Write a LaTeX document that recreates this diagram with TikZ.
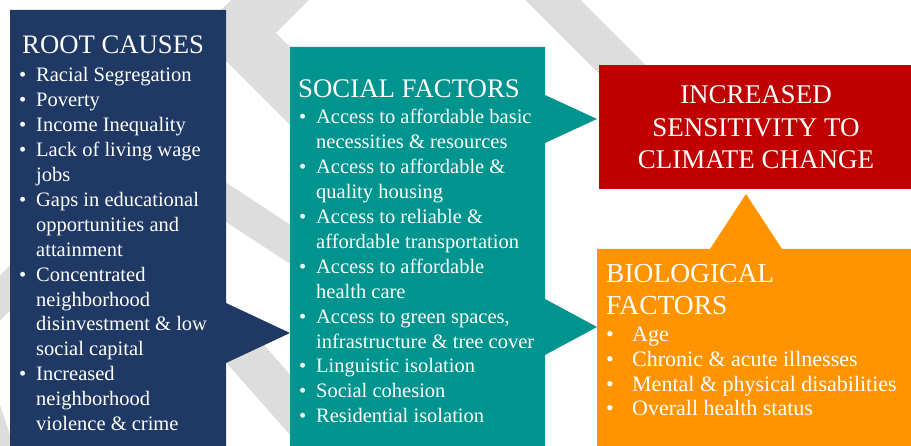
\documentclass[tikz,border=0pt]{standalone}
\usepackage{fontspec}
\setmainfont{Liberation Serif}
\definecolor{navybox}{RGB}{31,56,100}
\definecolor{tealbox}{RGB}{0,148,143}
\definecolor{redbox}{RGB}{192,0,0}
\definecolor{orangebox}{RGB}{255,148,0}
\definecolor{bandgray}{RGB}{221,221,221}
\newcommand\itm[1]{\makebox[#1][l]{\textbullet}}
\newcommand\cnt[1]{\hspace*{#1}}
\tikzset{
  band/.style={draw=bandgray, line cap=butt, line join=miter},
  boxfill/.style={fill=#1, draw=none},
  txt/.style={inner sep=0pt, text=white},
}
\begin{document}
\begin{tikzpicture}[x=1pt,y=-1pt]
\useasboundingbox (0,0) rectangle (911,446);
\begin{scope}
\clip (0,0) rectangle (911,446);
% background bands
\draw[band, line width=55pt] (290,-20) -- (237,33) -- (330,126);
\draw[band, line width=33pt] (120,133) -- (400,316);
\draw[band, line width=39pt] (500,-53) -- (680,127);
\draw[band, line width=32pt] (100,198) -- (-50,348);
\draw[band, line width=40pt] (180,280) -- (330,450);
\fill[bandgray] (0,405) -- (11,438) -- (11,446) -- (0,446) -- cycle;
% boxes
\fill[boxfill=navybox] (10,10) -- (226,10) -- (226,303) -- (290,333) -- (226,363) -- (226,450) -- (10,450) -- cycle;
\fill[boxfill=tealbox] (290,47) -- (545,47) -- (545,95) -- (597,119) -- (545,143) -- (545,299) -- (597,327) -- (545,355) -- (545,450) -- (290,450) -- cycle;
\fill[boxfill=redbox] (599,65) rectangle (915,189);
\fill[boxfill=orangebox] (597,249) -- (710,249) -- (746,194) -- (782,249) -- (915,249) -- (915,450) -- (597,450) -- cycle;
\end{scope}
% texts
\node[txt, anchor=base west] (rch) at (22,54) {\fontsize{26.7}{30}\selectfont ROOT CAUSES};
\node[txt, anchor=base west] (rcl) at (19,82) {\parbox[t]{210pt}{\fontsize{20.5}{24.9}\selectfont
\itm{17pt}Racial Segregation\\
\itm{17pt}Poverty\\
\itm{17pt}Income Inequality\\
\itm{17pt}Lack of living wage\\
\cnt{17pt}jobs\\
\itm{17pt}Gaps in educational\\
\cnt{17pt}opportunities and\\
\cnt{17pt}attainment\\
\itm{17pt}Concentrated\\
\cnt{17pt}neighborhood\\
\cnt{17pt}disinvestment \& low\\
\cnt{17pt}social capital\\
\itm{17pt}Increased\\
\cnt{17pt}neighborhood\\
\cnt{17pt}violence \& crime}};
\node[txt, anchor=base west] (sfh) at (298,98) {\fontsize{26.8}{30}\selectfont SOCIAL FACTORS};
\node[txt, anchor=base west] (sfl) at (299,124) {\parbox[t]{250pt}{\fontsize{20.5}{24.9}\selectfont
\itm{17pt}Access to affordable basic\\
\cnt{17pt}necessities \& resources\\
\itm{17pt}Access to affordable \&\\
\cnt{17pt}quality housing\\
\itm{17pt}Access to reliable \&\\
\cnt{17pt}affordable transportation\\
\itm{17pt}Access to affordable\\
\cnt{17pt}health care\\
\itm{17pt}Access to green spaces,\\
\cnt{17pt}infrastructure \& tree cover\\
\itm{17pt}Linguistic isolation\\
\itm{17pt}Social cohesion\\
\itm{17pt}Residential isolation}};
\node[txt, anchor=base] (inc) at (756,104) {\parbox[t]{300pt}{\centering\fontsize{27}{32.5}\selectfont INCREASED\\SENSITIVITY TO\\CLIMATE CHANGE}};
\node[txt, anchor=base west] (bfh) at (606,283) {\parbox[t]{300pt}{\fontsize{27.5}{32}\selectfont BIOLOGICAL\\FACTORS}};
\node[txt, anchor=base west] (bfl) at (606,342) {\parbox[t]{300pt}{\fontsize{22}{24.6}\selectfont
\itm{26pt}Age\\
\itm{26pt}Chronic \& acute illnesses\\
\itm{26pt}Mental \& physical disabilities\\
\itm{26pt}Overall health status}};
\end{tikzpicture}
\end{document}
